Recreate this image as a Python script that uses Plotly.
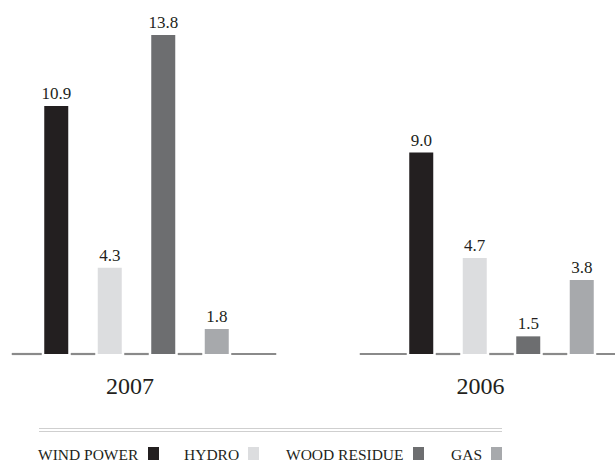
import plotly.graph_objects as go

# ---- data ----
years = ["2007", "2006"]
series = ["WIND POWER", "HYDRO", "WOOD RESIDUE", "GAS"]
wind_power = [10.9, 9.0]
hydro = [4.3, 4.7]
wood_residue = [13.8, 1.5]
gas = [1.8, 3.8]
values = [wind_power, hydro, wood_residue, gas]

# ---- style / layout ----
colors = ["#231f20", "#dcdddf", "#6d6e70", "#a7a9ac"]
FONT = "Liberation Serif"
TXT = "#231f20"
W, H = 615, 470
MB = 109
PLOT_H = H - MB
group_centers = [136.5, 501.5]
label_shift = [-6.5, -21]
bar_step = 53.5
bar_w = 24
gap = 2.5
left_ext = [30, 47]
right_ext = [45, 45]
px_per_unit = 24.5
axis_base = 0.78          # value axis starts here (baseline)
y_lo = axis_base - 7 / px_per_unit
y_hi = y_lo + PLOT_H / px_per_unit


def py(p):
    return (PLOT_H - p) / PLOT_H


fig = go.Figure()

# segmented baseline
seg_x, seg_y = [], []
for g, c in enumerate(group_centers):
    lefts = [c + (i - 1.5) * bar_step - bar_w / 2 for i in range(len(series))]
    rights = [l + bar_w for l in lefts]
    starts = [lefts[0] - gap - left_ext[g]] + [r + gap for r in rights]
    ends = [l - gap for l in lefts] + [rights[-1] + gap + right_ext[g]]
    for s, e in zip(starts, ends):
        seg_x += [s, e, None]
        seg_y += [axis_base, axis_base, None]
fig.add_trace(go.Scatter(x=seg_x, y=seg_y, mode="lines",
                         line=dict(color="#8a8a8a", width=2.2),
                         showlegend=False, hoverinfo="skip"))

for i, (name, vals) in enumerate(zip(series, values)):
    fig.add_trace(go.Bar(
        name=name,
        x=[c + (i - 1.5) * bar_step for c in group_centers],
        y=[v - axis_base for v in vals],
        base=axis_base,
        width=bar_w,
        marker=dict(color=colors[i], line=dict(width=0)),
        text=[f"{v:.1f}" for v in vals],
        textposition="outside",
        textfont=dict(family=FONT, size=17, color=TXT),
        constraintext="none",
        cliponaxis=False,
        showlegend=False,
    ))

# custom legend: text followed by a square
sq_left = [148, 248, 413, 491]
sq_w, sq_top, sq_bot = 11, 447, 460
shapes = []
annotations = []
for i, name in enumerate(series):
    shapes.append(dict(type="rect", xref="x", yref="paper",
                       x0=sq_left[i], x1=sq_left[i] + sq_w,
                       y0=py(sq_bot), y1=py(sq_top),
                       fillcolor=colors[i], line=dict(width=0)))
    annotations.append(dict(xref="x", yref="paper", x=sq_left[i] - 7,
                            y=py(454), xanchor="right", yanchor="middle",
                            text=name, showarrow=False,
                            font=dict(family=FONT, size=15.5, color=TXT)))

for yy in (428.5, 431.5):
    shapes.append(dict(type="line", xref="x", yref="paper", x0=39, x1=502,
                       y0=py(yy), y1=py(yy),
                       line=dict(color="#cfcfcf", width=1)))

fig.update_layout(
    width=W, height=H,
    margin=dict(l=0, r=0, t=0, b=MB),
    paper_bgcolor="white", plot_bgcolor="white",
    barmode="overlay",
    showlegend=False,
    font=dict(family=FONT, color=TXT),
    xaxis=dict(range=[0, W], showgrid=False, zeroline=False, showline=False,
               ticks="", tickvals=[c + s for c, s in zip(group_centers, label_shift)],
               ticktext=years, tickfont=dict(family=FONT, size=24, color=TXT),
               ticklabelstandoff=8),
    yaxis=dict(range=[y_lo, y_hi], visible=False),
    shapes=shapes,
    annotations=annotations,
)

fig.write_html("out.html")
